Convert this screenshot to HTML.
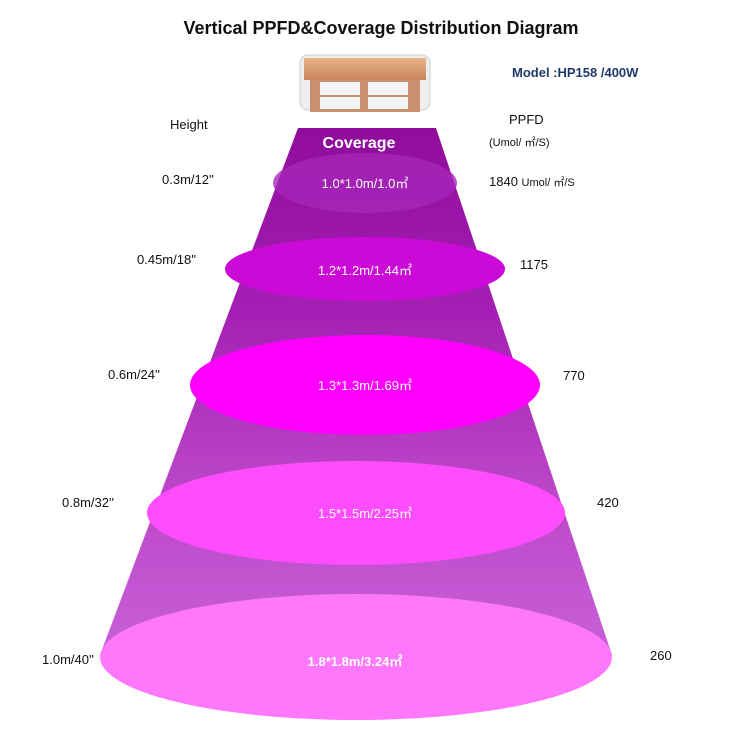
<!DOCTYPE html>
<html><head><meta charset="utf-8"><style>
body{margin:0;background:#fff;width:743px;height:745px;overflow:hidden;font-family:"Liberation Sans",sans-serif}
</style></head><body>
<svg width="743" height="745" viewBox="0 0 743 745" xmlns="http://www.w3.org/2000/svg" font-family="Liberation Sans, sans-serif">
<defs>
<linearGradient id="cone" x1="0" y1="0" x2="0" y2="1">
<stop offset="0" stop-color="#900c9c"/>
<stop offset="0.35" stop-color="#a420b4"/>
<stop offset="0.7" stop-color="#bc48c8"/>
<stop offset="1" stop-color="#c860d8"/>
</linearGradient>
<linearGradient id="lamp" x1="0" y1="0" x2="0" y2="1">
<stop offset="0" stop-color="#e8b48a"/><stop offset="1" stop-color="#c8845a"/>
</linearGradient>
</defs>
<text x="381" y="34" text-anchor="middle" font-size="18" font-weight="bold" fill="#111">Vertical PPFD&amp;Coverage Distribution Diagram</text>
<text x="512" y="77" font-size="13" font-weight="bold" fill="#1f3a6a">Model :HP158 /400W</text>
<!-- lamp -->
<rect x="300" y="55" width="130" height="55" rx="8" fill="#eee" stroke="#ccc"/>
<rect x="304" y="58" width="122" height="22" fill="url(#lamp)"/>
<rect x="310" y="80" width="110" height="32" fill="#c89070"/>
<rect x="320" y="82" width="40" height="13" fill="#f4f4f4"/><rect x="368" y="82" width="40" height="13" fill="#f4f4f4"/>
<rect x="320" y="97" width="40" height="12" fill="#f4f4f4"/><rect x="368" y="97" width="40" height="12" fill="#f4f4f4"/>
<!-- cone -->
<polygon points="298,128 436,128 612,655 100,655" fill="url(#cone)"/>
<ellipse cx="365" cy="183" rx="92" ry="30" fill="#a626b8" opacity="0.8"/>
<ellipse cx="365" cy="269" rx="140" ry="32" fill="#cc0ad8"/>
<ellipse cx="365" cy="385" rx="175" ry="50" fill="#ff00ff"/>
<ellipse cx="356" cy="513" rx="209" ry="52" fill="#ff4cff"/>
<ellipse cx="356" cy="657" rx="256" ry="63" fill="#ff78fc"/>
<text x="359" y="148" text-anchor="middle" font-size="16" font-weight="bold" fill="#fff">Coverage</text>
<g fill="#fff" font-size="13" text-anchor="middle">
<text x="365" y="188">1.0*1.0m/1.0㎡</text>
<text x="365" y="275">1.2*1.2m/1.44㎡</text>
<text x="365" y="390">1.3*1.3m/1.69㎡</text>
<text x="365" y="518">1.5*1.5m/2.25㎡</text>
<text x="355" y="666" font-weight="bold">1.8*1.8m/3.24㎡</text>
</g>
<g fill="#111" font-size="13">
<text x="170" y="129">Height</text>
<text x="162" y="184">0.3m/12''</text>
<text x="137" y="264">0.45m/18''</text>
<text x="108" y="379">0.6m/24''</text>
<text x="62" y="507">0.8m/32''</text>
<text x="42" y="664">1.0m/40''</text>
<text x="509" y="124">PPFD</text>
<text x="489" y="146" font-size="11">(Umol/ ㎡/S)</text>
<text x="489" y="186">1840 <tspan font-size="11">Umol/ ㎡/S</tspan></text>
<text x="520" y="269">1175</text>
<text x="563" y="380">770</text>
<text x="597" y="507">420</text>
<text x="650" y="660">260</text>
</g>
</svg>
</body></html>
